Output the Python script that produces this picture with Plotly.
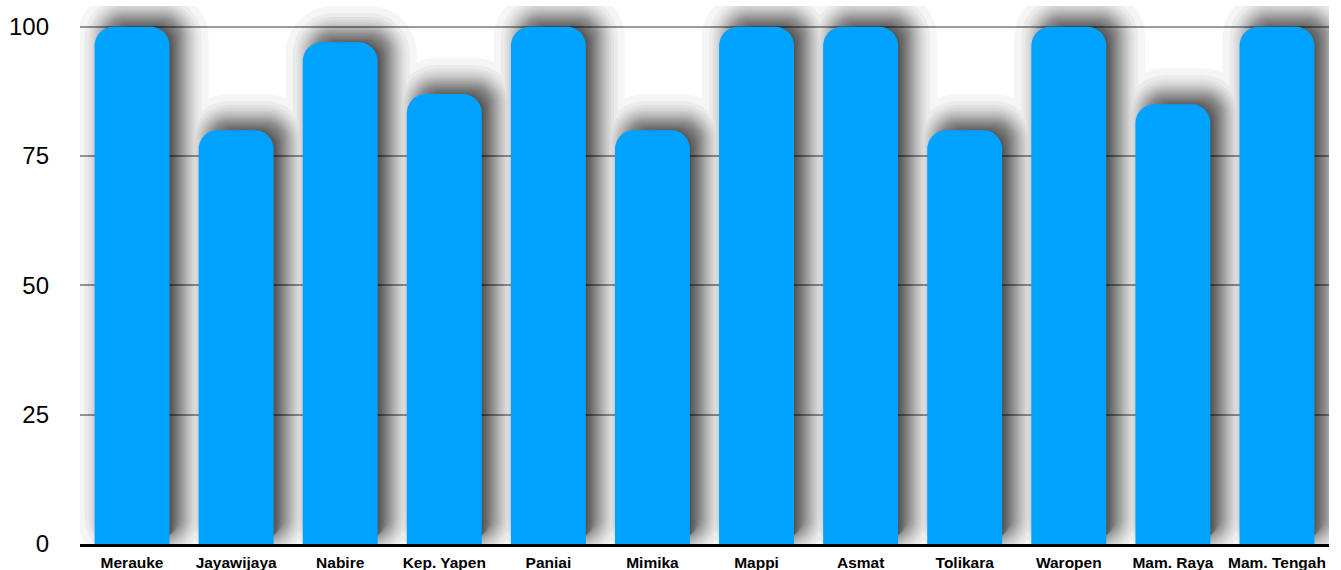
import plotly.graph_objects as go
from statistics import NormalDist

categories = ["Merauke", "Jayawijaya", "Nabire", "Kep. Yapen", "Paniai", "Mimika",
              "Mappi", "Asmat", "Tolikara", "Waropen", "Mam. Raya", "Mam. Tengah"]
values = [100, 80, 97, 87, 100, 80, 100, 100, 80, 100, 85, 100]
y_ticks = [0, 25, 50, 75, 100]

BAR_COLOR = "#00A2FF"
BAR_W = 0.72
RADIUS = 19

W, H = 1341, 570
ML, MR, MT, MB = 80, 12, 6, 26
Y_MAX = 104
PPX = (W - ML - MR) / len(categories)   # pixels per category unit
PPY = (H - MT - MB) / Y_MAX             # pixels per value unit

# drop-shadow style: shift right / up (px), blur sigma (px), max darkness, layer count
SH_RIGHT, SH_UP = 11, 8
SH_SIGMA, SH_MAX, SH_N = 14, 0.75, 40
SH_ALPHA = 1 - (1 - SH_MAX) ** (1 / SH_N)
_nd = NormalDist()
SH_LAYERS = []
for j in range(1, SH_N + 1):
    p = (1 - (1 - SH_ALPHA) ** (j - 0.5)) / SH_MAX
    p = min(max(p, 1e-4), 0.9999)
    SH_LAYERS.append(-SH_SIGMA * _nd.inv_cdf(p))

fig = go.Figure()

for h in SH_LAYERS:
    shrink = min(h, 0)
    grow = max(h, 0)
    width = max(BAR_W + 2 * shrink / PPX, 0.02)
    fig.add_trace(go.Bar(
        x=categories, y=values, width=width,
        offset=-width / 2 + SH_RIGHT / PPX,
        base=(SH_UP + shrink) / PPY,
        opacity=SH_ALPHA,
        marker=dict(color="black", cornerradius=RADIUS,
                    line=dict(color="black", width=2 * grow)),
        hoverinfo="skip", showlegend=False,
    ))

fig.add_trace(go.Bar(
    x=categories, y=values, width=BAR_W, offset=-BAR_W / 2,
    marker=dict(color=BAR_COLOR, cornerradius=RADIUS, line=dict(width=0)),
    showlegend=False,
))

fig.update_layout(
    width=W, height=H,
    margin=dict(l=ML, r=MR, t=MT, b=MB, autoexpand=False),
    barmode="overlay",
    plot_bgcolor="white", paper_bgcolor="white",
    font=dict(family="Liberation Sans, Arial, Helvetica, sans-serif", color="black"),
    xaxis=dict(
        showgrid=False, showline=True, linecolor="black", linewidth=2.5,
        tickfont=dict(size=15.5, color="black", weight="bold"),
        ticks="", ticklabelstandoff=3, automargin=False,
    ),
    yaxis=dict(
        range=[0, Y_MAX], tickvals=y_ticks, ticktext=[str(v) for v in y_ticks],
        showgrid=True, gridcolor="#9a9a9a", gridwidth=1.5,
        zeroline=False, showline=False, ticks="",
        tickfont=dict(size=24, color="black"), ticklabelstandoff=30, automargin=False,
    ),
)

fig.write_html("out.html", config={"displayModeBar": False},
               post_script="document.body.style.margin='0';")
